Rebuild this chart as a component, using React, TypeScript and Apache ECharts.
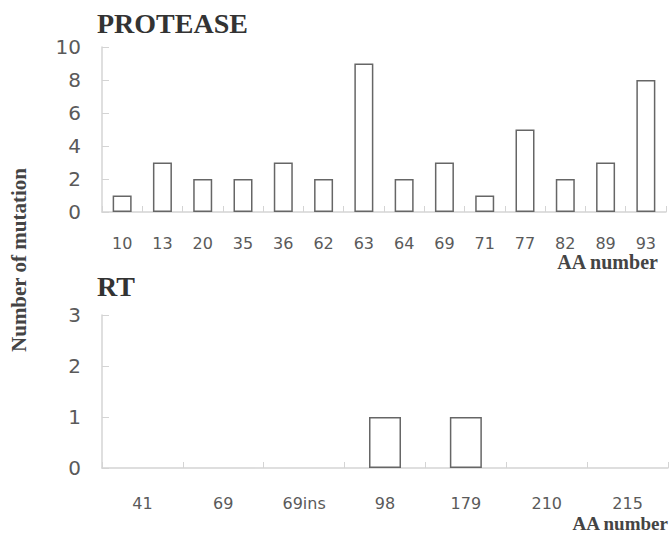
import React, { useEffect, useRef } from "react";
import * as echarts from "echarts";

const proteaseCats = ["10", "13", "20", "35", "36", "62", "63", "64", "69", "71", "77", "82", "89", "93"];
const proteaseVals = [1, 3, 2, 2, 3, 2, 9, 2, 3, 1, 5, 2, 3, 8];
const rtCats = ["41", "69", "69ins", "98", "179", "210", "215"];
const rtVals = [0, 0, 0, 1, 1, 0, 0];
const proteaseTicks = { min: 0, max: 10, interval: 2 };
const rtTicks = { min: 0, max: 3, interval: 1 };

const LABEL_COLOR = "#5a5a5a";
const AXIS_COLOR = "#d4d4d4";
const BAR_BORDER = "#666";
const SERIF = "'Liberation Serif', 'Times New Roman', serif";
const SANS = "'DejaVu Sans', sans-serif";

export default function App() {
  const ref = useRef<HTMLDivElement>(null);
  useEffect(() => {
    if (!ref.current) return;
    const chart = echarts.init(ref.current, null, { renderer: "svg" });
    const xAxisCommon = (margin: number) => ({
      type: "category" as const,
      boundaryGap: true,
      axisLine: { lineStyle: { color: AXIS_COLOR, width: 1.5 } },
      axisTick: { show: true, inside: true, length: 6, lineStyle: { color: AXIS_COLOR } },
      axisLabel: { color: LABEL_COLOR, fontSize: 16, fontFamily: SANS, margin },
    });
    const yAxisCommon = {
      type: "value" as const,
      axisLine: { show: true, lineStyle: { color: AXIS_COLOR, width: 1.5 } },
      axisTick: { show: true, inside: true, length: 7, lineStyle: { color: AXIS_COLOR } },
      splitLine: { show: false },
      axisLabel: { color: LABEL_COLOR, fontSize: 20, fontFamily: SANS, margin: 21 },
    };
    const barStyle = { color: "#fff", borderColor: BAR_BORDER, borderWidth: 1.5 };
    chart.setOption({
      animation: false,
      grid: [
        { left: 102, top: 47, width: 564, height: 165 },
        { left: 102, top: 315, width: 566, height: 153 },
      ],
      xAxis: [
        { ...xAxisCommon(23), gridIndex: 0, data: proteaseCats },
        { ...xAxisCommon(27), gridIndex: 1, data: rtCats },
      ],
      yAxis: [
        { ...yAxisCommon, gridIndex: 0, ...proteaseTicks },
        { ...yAxisCommon, gridIndex: 1, ...rtTicks },
      ],
      series: [
        {
          type: "bar",
          xAxisIndex: 0,
          yAxisIndex: 0,
          barWidth: 19,
          itemStyle: barStyle,
          data: proteaseVals.map((v) => ({ value: v, itemStyle: v === 0 ? { borderWidth: 0 } : undefined })),
        },
        {
          type: "bar",
          xAxisIndex: 1,
          yAxisIndex: 1,
          barWidth: 32,
          itemStyle: barStyle,
          data: rtVals.map((v) => ({ value: v, itemStyle: v === 0 ? { borderWidth: 0 } : undefined })),
        },
      ],
      graphic: [
        {
          type: "text",
          left: 97,
          top: 9,
          style: { text: "PROTEASE", font: `bold 28px ${SERIF}`, fill: "#333" },
        },
        {
          type: "text",
          left: 97,
          top: 272,
          style: { text: "RT", font: `bold 28px ${SERIF}`, fill: "#333" },
        },
        {
          type: "text",
          right: 12,
          top: 252,
          style: { text: "AA number", font: `bold 20px ${SERIF}`, fill: "#444" },
        },
        {
          type: "text",
          right: 2,
          top: 514,
          style: { text: "AA number", font: `bold 19px ${SERIF}`, fill: "#444" },
        },
        {
          type: "text",
          x: 19,
          y: 260,
          rotation: Math.PI / 2,
          style: {
            text: "Number of mutation",
            font: `bold 21px ${SERIF}`,
            fill: "#444",
            align: "center",
            verticalAlign: "middle",
          },
        },
      ],
    });
    return () => chart.dispose();
  }, []);
  return (
    <div
      ref={ref}
      style={{ position: "absolute", left: 0, top: 0, width: 671, height: 534, background: "#fff" }}
    />
  );
}
